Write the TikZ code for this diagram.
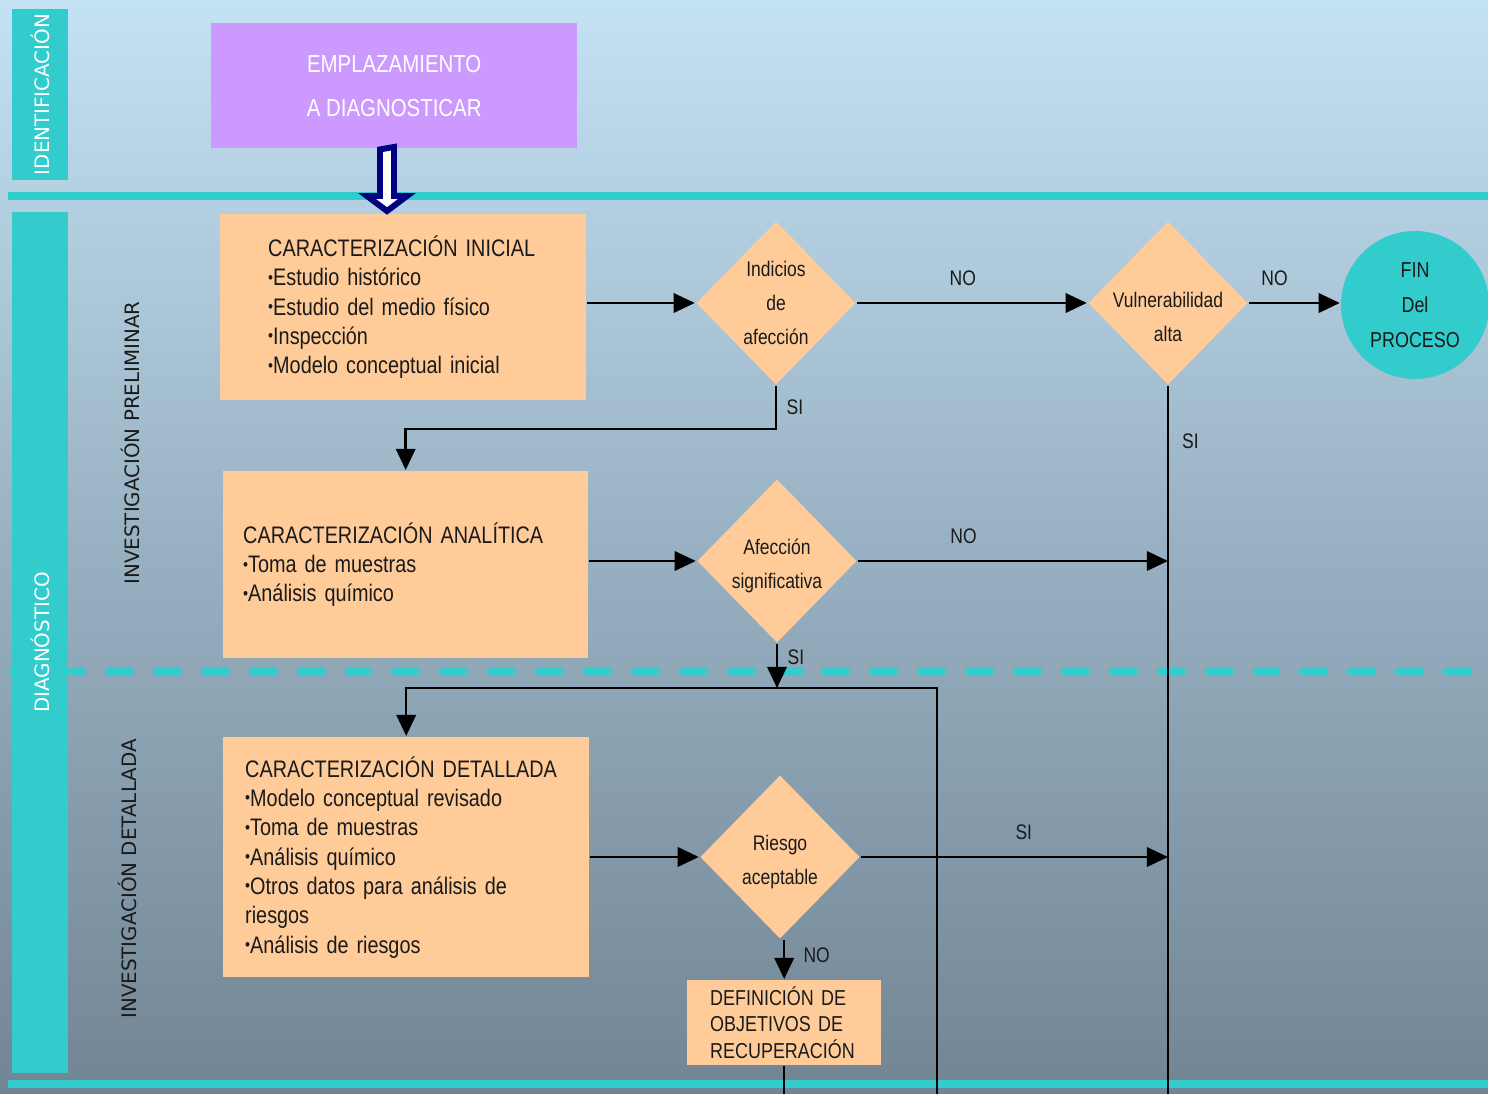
\documentclass[tikz,border=0pt]{standalone}
\usepackage{fontspec}
\setmainfont{Liberation Sans}[FakeStretch=0.83]
\newfontfamily\lanefont{DejaVu Sans}
\usetikzlibrary{arrows.meta,shapes.geometric}
\definecolor{turq}{HTML}{33CCCC}
\definecolor{peach}{HTML}{FFCC99}
\definecolor{lilac}{HTML}{CC99FF}
\definecolor{ink}{HTML}{1A1A1A}
\definecolor{navyb}{HTML}{000080}
\newcommand\bul{\raisebox{.2ex}{\scalebox{.72}{\textbullet}}}
\begin{document}
\begin{tikzpicture}[x=0.02cm, y=-0.02cm, >={Triangle[length=12pt,width=11pt]}, line width=1.4pt,
 caja/.style={rectangle, fill=peach, anchor=north west, inner sep=0pt, align=left, text=ink, font=\fontsize{13.6}{16.7}\selectfont},
 decision/.style={diamond, fill=peach, minimum width=3.2cm, minimum height=3.28cm, inner xsep=-14pt, inner ysep=-8pt, align=center, text=ink, font=\fontsize{12}{19.3}\selectfont},
 carril/.style={rotate=90, inner sep=0pt, font=\lanefont\fontsize{11.3}{13}\selectfont},
 etq/.style={font=\fontsize{12}{14}\selectfont, text=ink},
 franja/.style={turq, line width=4pt}]
\useasboundingbox (0,0) rectangle (1488,1094);
\shade[top color={rgb,255:red,195;green,226;blue,244}, bottom color={rgb,255:red,114;green,133;blue,148}, middle color={rgb,255:red,152;green,177;blue,194}] (0,0) rectangle (1488,1094);
% franjas
\draw[franja] (8,196) -- (1488,196);
\draw[franja] (8,1084) -- (1488,1084);
\draw[franja, dash pattern=on 15.9pt off 11.3pt] (10,671) -- (1488,671);
\node[carril, fill=turq, text=white, minimum width=3.42cm, minimum height=1.12cm] (ident) at (40,94.5) {IDENTIFICACIÓN};
\node[carril, fill=turq, text=white, minimum width=17.22cm, minimum height=1.12cm] (diag) at (40,642.5) {DIAGNÓSTICO};
\node[carril, text=ink] (prelim) at (130,443) {INVESTIGACIÓN PRELIMINAR};
\node[carril, text=ink] (detal) at (127,879) {INVESTIGACIÓN DETALLADA};
% cajas
\node[caja, fill=lilac, align=center, text=white, minimum width=7.32cm, minimum height=2.5cm, font=\fontsize{14}{25}\selectfont] (emp) at (210,22) {EMPLAZAMIENTO\\A DIAGNOSTICAR};
\node[caja, minimum width=7.32cm, minimum height=3.72cm, text width=5.4cm] (ini) at (219,213)
 {CARACTERIZACIÓN INICIAL\\\bul Estudio histórico\\\bul Estudio del medio físico\\\bul Inspección\\\bul Modelo conceptual inicial};
\node[caja, minimum width=7.3cm, minimum height=3.74cm, text width=6.5cm] (ana) at (222,470)
 {CARACTERIZACIÓN ANALÍTICA\\\bul Toma de muestras\\\bul Análisis químico};
\node[caja, minimum width=7.32cm, minimum height=4.8cm, text width=6.44cm] (det) at (222,736)
 {CARACTERIZACIÓN DETALLADA\\\bul Modelo conceptual revisado\\\bul Toma de muestras\\\bul Análisis químico\\\bul Otros datos para análisis de\\riesgos\\\bul Análisis de riesgos};
\node[caja, minimum width=3.88cm, minimum height=1.7cm, text width=2.96cm, font=\fontsize{12.3}{15}\selectfont] (rec) at (686,979)
 {DEFINICIÓN DE\\OBJETIVOS DE\\RECUPERACIÓN};
% decisiones
\node[decision] (d1) at (776,303) {Indicios\\de\\afección};
\node[decision, label={[align=center, text=ink, font=\fontsize{12}{19.3}\selectfont, yshift=-8pt]center:Vulnerabilidad\\alta}] (d2) at (1168,303) {};
\node[decision] (d3) at (777,561) {\\[-5pt]Afección\\significativa};
\node[decision] (d4) at (780,857) {\\[-5pt]Riesgo\\aceptable};
\node[circle, fill=turq, minimum size=2.96cm, inner sep=0pt, align=center, text=ink, font=\fontsize{12.3}{19.8}\selectfont] (fin) at (1415,305) {FIN\\Del\\PROCESO};
% conectores
\coordinate (baja) at (1168,1094);
\coordinate (ret) at (937,1094);
\coordinate (retc) at (937,688);
\draw[->] (ini.east |- d1) -- (d1.west);
\draw[->] (d1.east) -- node[etq, above=6pt, pos=.46]{NO} (d2.west);
\draw[->] (d2.east) -- node[etq, above=6pt, pos=.28]{NO} (fin.west |- d2.east);
\draw[->] (d1.south) -- node[etq, right=2pt]{SI} ++(0,43) -| (ana.north);
\draw (d2.south) -- node[etq, right=4pt, pos=.078]{SI} (baja);
\draw[->] (ana.east |- d3) -- (d3.west);
\draw[->] (d3.east) -- node[etq, above=6pt, pos=.34]{NO} (d2 |- d3);
\draw[->] (d3.south) -- node[etq, right=2pt, pos=.3]{SI} (d3.south |- retc);
\draw[->] (ret) -- (retc) -| (det.north);
\draw[->] (det.east |- d4) -- (d4.west);
\draw[->] (d4.east) -- node[etq, above=6pt, pos=.53]{SI} (d2 |- d4);
\draw[->] (rec.north |- d4.south) -- node[etq, right=7pt, pos=.4]{NO} (rec.north);
\draw (rec.south) -- (rec.south |- ret);
% flecha hueca
\draw[navyb, line width=3.4pt, fill=white] (emp.south -| 380,0) -- (380,196) -- (367,196) -- (387,211) -- (407,196) -- (394,196) -- (394,147) -- cycle;
\end{tikzpicture}
\end{document}
